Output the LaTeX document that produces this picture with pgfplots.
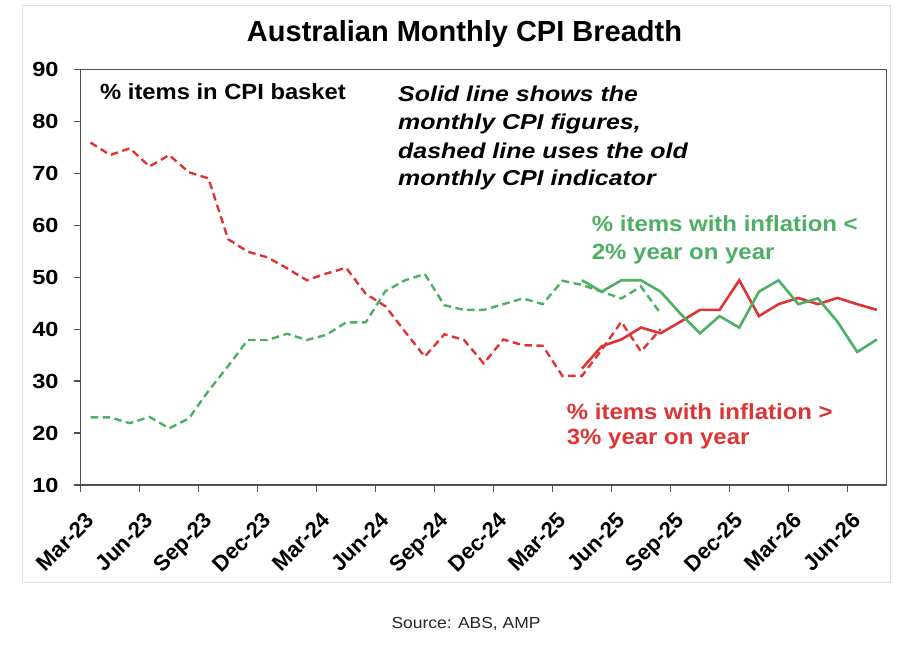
\documentclass[border=0pt]{standalone}
\usepackage{fontspec}
\setmainfont{Liberation Sans}
\newfontfamily\fTick[FakeStretch=1.15]{Liberation Sans}
\newfontfamily\fAnn[FakeStretch=1.08]{Liberation Sans}
\newfontfamily\fIt[FakeStretch=1.16]{Liberation Sans}
\newfontfamily\fLab[FakeStretch=1.09]{Liberation Sans}
\usepackage{pgfplots}
\pgfplotsset{compat=1.18}
\definecolor{cpired}{RGB}{221,52,52}
\definecolor{cpigreen}{RGB}{77,175,99}
\definecolor{axgray}{RGB}{80,80,80}
\begin{document}
\begin{tikzpicture}
\useasboundingbox (0,0) rectangle (900bp,654bp);
\draw[black!12, line width=0.8bp] (22bp,72bp) rectangle (890bp,649bp);
\begin{axis}[
  at={(80.7bp,169bp)}, anchor=south west,
  scale only axis, width=806bp, height=415.7bp,
  xmin=-0.5, xmax=40.5, ymin=10, ymax=90,
  xtick={-0.5,2.5,...,38.5},
  xticklabels={Mar-23,Jun-23,Sep-23,Dec-23,Mar-24,Jun-24,Sep-24,Dec-24,Mar-25,Jun-25,Sep-25,Dec-25,Mar-26,Jun-26},
  ytick={10,20,...,90},
  xtick pos=bottom, ytick pos=left, tick align=outside,
  major tick length=7bp,
  tick style={axgray, line width=1.2bp},
  axis line style={axgray, line width=1.5bp},
  /pgf/number format/assume math mode=true,
  yticklabel style={font=\fontsize{20.5bp}{20.5bp}\fTick\bfseries, inner sep=0pt, xshift=-15bp},
  xticklabel style={font=\fontsize{22bp}{22bp}\selectfont\bfseries, anchor=north east, inner sep=0pt, xshift=4bp, yshift=-19bp, rotate=45},
  clip=false,
]
\addplot[cpired, line width=2.4bp, dash pattern=on 7.5bp off 4.5bp] coordinates {
(0,75.9)(1,73.5)(2,74.8)(3,71.3)(4,73.5)(5,70.2)(6,69.0)(7,57.3)(8,54.9)(9,53.8)
(10,51.7)(11,49.4)(12,50.7)(13,51.8)(14,46.8)(15,44.4)(16,39.5)(17,34.7)(18,39.0)(19,37.9)
(20,33.4)(21,38.0)(22,36.9)(23,36.8)(24,31.0)(25,31.0)(26,36.0)(27,41.4)(28,35.7)(29,40.0)};
\addplot[cpigreen, line width=2.4bp, dash pattern=on 7.5bp off 4.5bp] coordinates {
(0,23.0)(1,23.0)(2,21.9)(3,23.1)(4,20.9)(5,22.8)(6,28.1)(7,32.9)(8,37.9)(9,37.9)
(10,39.1)(11,37.9)(12,38.9)(13,41.3)(14,41.3)(15,47.3)(16,49.4)(17,50.6)(18,44.6)(19,43.7)
(20,43.7)(21,44.8)(22,45.9)(23,44.8)(24,49.3)(25,48.5)(26,47.2)(27,45.9)(28,48.2)(29,43.0)};
\addplot[cpired, line width=2.6bp] coordinates {
(25,32.4)(26,36.7)(27,38.0)(28,40.3)(29,39.2)(30,41.4)(31,43.7)(32,43.7)(33,49.4)(34,42.5)
(35,44.8)(36,46.0)(37,44.8)(38,46.0)(39,44.8)(40,43.7)};
\addplot[cpigreen, line width=2.6bp] coordinates {
(25,49.4)(26,47.2)(27,49.4)(28,49.4)(29,47.2)(30,43.0)(31,39.2)(32,42.5)(33,40.3)(34,47.2)
(35,49.4)(36,44.8)(37,45.9)(38,41.4)(39,35.6)(40,38.0)};
\end{axis}
\node[anchor=base, font=\fontsize{29bp}{29bp}\selectfont\bfseries, inner sep=0pt] at (464.5bp,612.3bp) {Australian Monthly CPI Breadth};
\node[anchor=base west, font=\fontsize{22bp}{22bp}\fAnn\bfseries, inner sep=0pt] at (100bp,554bp) {\% items in CPI basket};
\node[anchor=base west, font=\fontsize{21.5bp}{21.5bp}\fIt\bfseries\itshape, inner sep=0pt] at (398bp,552.3bp) {Solid line shows the};
\node[anchor=base west, font=\fontsize{21.5bp}{21.5bp}\fIt\bfseries\itshape, inner sep=0pt] at (398bp,524bp) {monthly CPI figures,};
\node[anchor=base west, font=\fontsize{21.5bp}{21.5bp}\fIt\bfseries\itshape, inner sep=0pt] at (398bp,495.7bp) {dashed line uses the old};
\node[anchor=base west, font=\fontsize{21.5bp}{21.5bp}\fIt\bfseries\itshape, inner sep=0pt] at (398bp,468bp) {monthly CPI indicator};
\node[anchor=base west, font=\fontsize{22bp}{22bp}\fLab\bfseries, text=cpigreen, inner sep=0pt] at (591.7bp,422bp) {\% items with inflation <};
\node[anchor=base west, font=\fontsize{22bp}{22bp}\fLab\bfseries, text=cpigreen, inner sep=0pt] at (591.7bp,394bp) {2\% year on year};
\node[anchor=base west, font=\fontsize{22bp}{22bp}\fLab\bfseries, text=cpired, inner sep=0pt] at (566.7bp,234.7bp) {\% items with inflation >};
\node[anchor=base west, font=\fontsize{22bp}{22bp}\fLab\bfseries, text=cpired, inner sep=0pt] at (566.7bp,209bp) {3\% year on year};
\node[anchor=base, font=\fontsize{16bp}{16bp}\fLab, text=black!85, inner sep=0pt] at (466bp,26bp) {Source: ABS, AMP};
\end{tikzpicture}
\end{document}
